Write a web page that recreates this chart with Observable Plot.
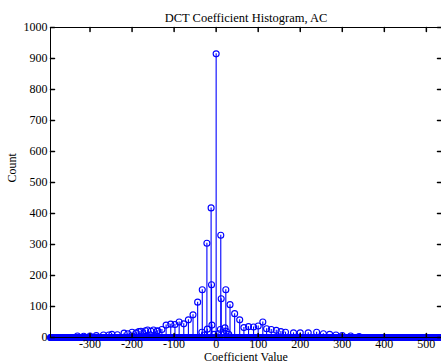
<!DOCTYPE html>
<html>
<head>
<meta charset="utf-8">
<script src="https://cdn.jsdelivr.net/npm/d3@7"></script>
<script src="https://cdn.jsdelivr.net/npm/@observablehq/plot@0.6"></script>
<style>
  html, body { margin: 0; padding: 0; background: #fff; }
  svg { display: block; }
</style>
</head>
<body>
<div id="chart"></div>
<script>
const title = "DCT Coefficient Histogram, AC";
const xLabel = "Coefficient Value";
const yLabel = "Count";

// range of coefficient bins (every integer bin is drawn, most are zero)
const binRange = [-394, 536];

// non-zero bins
const nzValues = [-330, -315, -300, -285, -268, -255, -248, -235, -219, -210, -200, -190, -184, -179, -168, -163, -155, -149, -141, -139, -129, -119, -108, -98, -88, -77, -66, -55, -44, -34, -33, -28, -22, -21, -12, -11, -10, -5, 0, 5, 10, 11, 12, 21, 23, 24, 30, 33, 44, 56, 66, 77, 89, 100, 111, 120, 131, 143, 154, 165, 184, 200, 219, 239, 255, 270, 285, 300, 320, 340];
const nzCounts = [5, 4, 5, 6, 8, 8, 10, 9, 14, 12, 17, 15, 19, 20, 22, 24, 20, 24, 20, 22, 26, 40, 43, 42, 50, 44, 57, 73, 114, 17, 154, 8, 304, 27, 418, 170, 40, 10, 915, 12, 26, 330, 125, 31, 154, 20, 10, 106, 77, 57, 32, 35, 34, 37, 50, 28, 26, 23, 19, 17, 15, 15, 15, 17, 12, 10, 8, 6, 5, 3];

const xTicks = [-300, -200, -100, 0, 100, 200, 300, 400, 500];
const yTicks = [0, 100, 200, 300, 400, 500, 600, 700, 800, 900, 1000];
const yDomain = [0, 1000];

const lookup = new Map(nzValues.map((v, i) => [v, nzCounts[i]]));
const data = d3.range(binRange[0], binRange[1] + 1).map(v => ({v, c: lookup.get(v) ?? 0}));

const tickShape = { draw(ctx, l) { ctx.moveTo(0, 0); ctx.lineTo(0, -l); } };
const font = "'Liberation Serif', 'Times New Roman', serif";
const fmt = d => String(d);

const chart = Plot.plot({
  width: 441,
  height: 364,
  marginLeft: 50,
  marginRight: 0,
  marginTop: 27,
  marginBottom: 27,
  style: { fontFamily: font, fontSize: "12px", color: "black", background: "white", overflow: "visible" },
  x: { domain: binRange, ticks: xTicks },
  y: { domain: yDomain, ticks: yTicks },
  marks: [
    Plot.ruleX(data.filter(d => d.c > 0), { x: "v", y1: 0, y2: "c", stroke: "blue", strokeWidth: 1.1 }),
    Plot.dot(data, { x: "v", y: "c", r: 3, stroke: "blue", strokeWidth: 1.1, fill: "none" }),
    Plot.ruleY([yDomain[0]], { stroke: "black", strokeWidth: 1 }),
    Plot.ruleY([yDomain[1]], { stroke: "black", strokeWidth: 1 }),
    Plot.ruleX([binRange[0]], { stroke: "black", strokeWidth: 1 }),
    // inward ticks
    Plot.vector(yTicks, { y: d => d, frameAnchor: "left", length: 4, rotate: 90, anchor: "start", shape: tickShape, stroke: "black" }),
    Plot.vector(yTicks, { y: d => d, frameAnchor: "right", length: 4, rotate: -90, anchor: "start", shape: tickShape, stroke: "black" }),
    Plot.vector(xTicks, { x: d => d, frameAnchor: "top", length: 4, rotate: 180, anchor: "start", shape: tickShape, stroke: "black" }),
    Plot.vector(xTicks, { x: d => d, frameAnchor: "bottom", length: 4, rotate: 0, anchor: "start", shape: tickShape, stroke: "black" }),
    Plot.axisX({ ticks: xTicks, tickSize: 0, tickPadding: 2, tickFormat: fmt, label: null, fontSize: 12 }),
    Plot.axisY({ ticks: yTicks, tickSize: 0, tickPadding: 3, tickFormat: fmt, label: null, fontSize: 12 }),
    Plot.text([title], { frameAnchor: "top", dy: -14, fontSize: 12.5, fill: "black" }),
    Plot.text([xLabel], { frameAnchor: "bottom", dy: 21, lineAnchor: "top", dy: 15, fontSize: 12, fill: "black" }),
    Plot.text([yLabel], { frameAnchor: "left", dx: -38, rotate: -90, fontSize: 12, fill: "black" })
  ]
});
document.getElementById("chart").appendChild(chart);
</script>
</body>
</html>
